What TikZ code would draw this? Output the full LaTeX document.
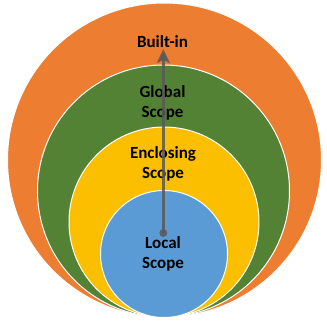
\documentclass[tikz,border=0pt]{standalone}
\usepackage{fontspec}
\setmainfont{Carlito}
\usetikzlibrary{arrows.meta}
\definecolor{corange}{HTML}{ED7D31}
\definecolor{cgreen}{HTML}{548235}
\definecolor{cyellow}{HTML}{FBBF00}
\definecolor{cblue}{HTML}{5B9BD5}
\definecolor{carrow}{HTML}{595959}
\tikzset{
  ring/.style={circle, draw=white, line width=1pt, inner sep=0pt},
  lbl/.style={font=\fontsize{17}{20}\selectfont\bfseries, text=black, align=center, inner sep=0pt},
  pathline/.style={draw=carrow, line width=3pt, opacity=0.85, -{Stealth[length=14pt,width=13pt,inset=3pt]}},
  dot/.style={circle, fill=carrow, inner sep=0pt, minimum size=8pt, opacity=0.85}
}
\begin{document}
\begin{tikzpicture}[x=1pt,y=-1pt]
\useasboundingbox (0,0) rectangle (327,322);
\node[ring, fill=corange, minimum size=314pt] (builtin) at (164.5,160) {};
\node[ring, fill=cgreen, minimum size=252pt] (global) at (163.5,191) {};
\node[ring, fill=cyellow, minimum size=190pt] (enclosing) at (164,222) {};
\node[ring, fill=cblue, minimum size=127pt] (local) at (164,254) {};
\node[lbl] (tbuilt) at (162.5,42) {Built-in};
\node[lbl] (tglobal) at (162.5,103) {Global\\Scope};
\node[lbl] (tencl) at (163,164) {Enclosing\\Scope};
\node[lbl] (tlocal) at (163,254) {Local\\Scope};
\node[dot] (start) at (163.3,233) {};
\coordinate (tip) at (163.3,49);
\draw[pathline] (start.center) -- (tip);
\end{tikzpicture}
\end{document}
